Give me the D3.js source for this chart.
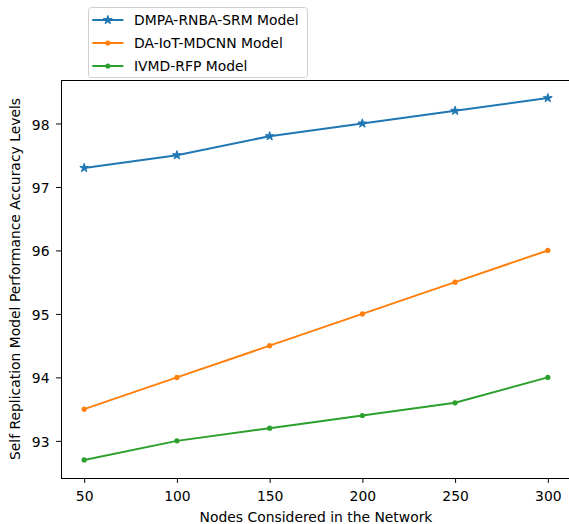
<!DOCTYPE html>
<html><head><meta charset="utf-8">
<script src="https://cdn.jsdelivr.net/npm/d3@7"></script>
<style>
html,body{margin:0;padding:0;background:#fff;}
svg{display:block;font-family:"DejaVu Sans",sans-serif;}
</style></head>
<body>
<svg id="chart" width="569" height="524"></svg>
<script>
const nodes = [50, 100, 150, 200, 250, 300];
const dmpa = [97.3, 97.5, 97.8, 98.0, 98.2, 98.4];
const daiot = [93.5, 94.0, 94.5, 95.0, 95.5, 96.0];
const ivmd = [92.7, 93.0, 93.2, 93.4, 93.6, 94.0];
const seriesNames = ["DMPA-RNBA-SRM Model", "DA-IoT-MDCNN Model", "IVMD-RFP Model"];
const seriesColors = ["#1f77b4", "#ff7f0e", "#2ca02c"];
const xTicks = [50, 100, 150, 200, 250, 300];
const yTicks = [93, 94, 95, 96, 97, 98];

const series = [
  {name: seriesNames[0], values: dmpa, color: seriesColors[0], marker: "star"},
  {name: seriesNames[1], values: daiot, color: seriesColors[1], marker: "dot"},
  {name: seriesNames[2], values: ivmd, color: seriesColors[2], marker: "dot"}
];

const FS = 13.9;
const svg = d3.select("#chart");
const L = 61, R = 571, T = 80, B = 478;
const x = d3.scaleLinear().domain([37.5, 312.5]).range([L, R]);
const y = d3.scaleLinear().domain([92.415, 98.685]).range([B, T]);

const xAxis = svg.append("g").attr("transform", `translate(0,${B})`)
  .call(d3.axisBottom(x).tickValues(xTicks).tickSize(4.9).tickPadding(8.7).tickFormat(d3.format("d")));
const yAxis = svg.append("g").attr("transform", `translate(${L},0)`)
  .call(d3.axisLeft(y).tickValues(yTicks).tickSize(4.9).tickPadding(6.6).tickFormat(d3.format("d")));
[xAxis, yAxis].forEach(a => {
  a.select(".domain").remove();
  a.selectAll("text").attr("font-size", FS).attr("fill", "#000").attr("font-family", "DejaVu Sans");
  a.selectAll("line").attr("stroke", "#000").attr("stroke-width", 1);
});
yAxis.selectAll("text").attr("dy", "0.4em");

// spines
svg.append("rect").attr("x", L + 0.5).attr("y", T + 0.5).attr("width", R - L).attr("height", B - T)
  .attr("fill", "none").attr("stroke", "#000").attr("stroke-width", 1);

const line = d3.line().x((d, i) => x(nodes[i])).y(d => y(d));
const star = d3.symbol().type(d3.symbolStar).size(24);

series.forEach(s => {
  svg.append("path").datum(s.values).attr("d", line)
    .attr("fill", "none").attr("stroke", s.color).attr("stroke-width", 2);
  const g = svg.append("g");
  s.values.forEach((v, i) => {
    if (s.marker === "star") {
      g.append("path").attr("d", star).attr("transform", `translate(${x(nodes[i])},${y(v)})`)
        .attr("fill", s.color).attr("stroke", s.color).attr("stroke-width", 1);
    } else {
      g.append("circle").attr("cx", x(nodes[i])).attr("cy", y(v)).attr("r", 2.6).attr("fill", s.color);
    }
  });
});

// axis labels
svg.append("text").attr("x", 316).attr("y", 521.5)
  .attr("text-anchor", "middle").attr("font-size", FS).text("Nodes Considered in the Network");
svg.append("text").attr("transform", `translate(19.5,${(T + B) / 2}) rotate(-90)`)
  .attr("text-anchor", "middle").attr("font-size", FS).text("Self Replication Model Performance Accuracy Levels");

// legend
const lg = svg.append("g");
lg.append("rect").attr("x", 88.5).attr("y", 7.5).attr("width", 219).attr("height", 70).attr("rx", 3)
  .attr("fill", "#fff").attr("fill-opacity", 0.9).attr("stroke", "#d0d0d0").attr("stroke-width", 1);
series.forEach((s, i) => {
  const cy = 20 + i * 23;
  lg.append("line").attr("x1", 92.3).attr("x2", 123.3).attr("y1", cy).attr("y2", cy)
    .attr("stroke", s.color).attr("stroke-width", 2);
  if (s.marker === "star") {
    lg.append("path").attr("d", star).attr("transform", `translate(107.8,${cy})`)
      .attr("fill", s.color).attr("stroke", s.color).attr("stroke-width", 1);
  } else {
    lg.append("circle").attr("cx", 107.8).attr("cy", cy).attr("r", 2.6).attr("fill", s.color);
  }
  lg.append("text").attr("x", 134).attr("y", cy + 5).attr("font-size", FS).text(s.name);
});
</script>
</body></html>
